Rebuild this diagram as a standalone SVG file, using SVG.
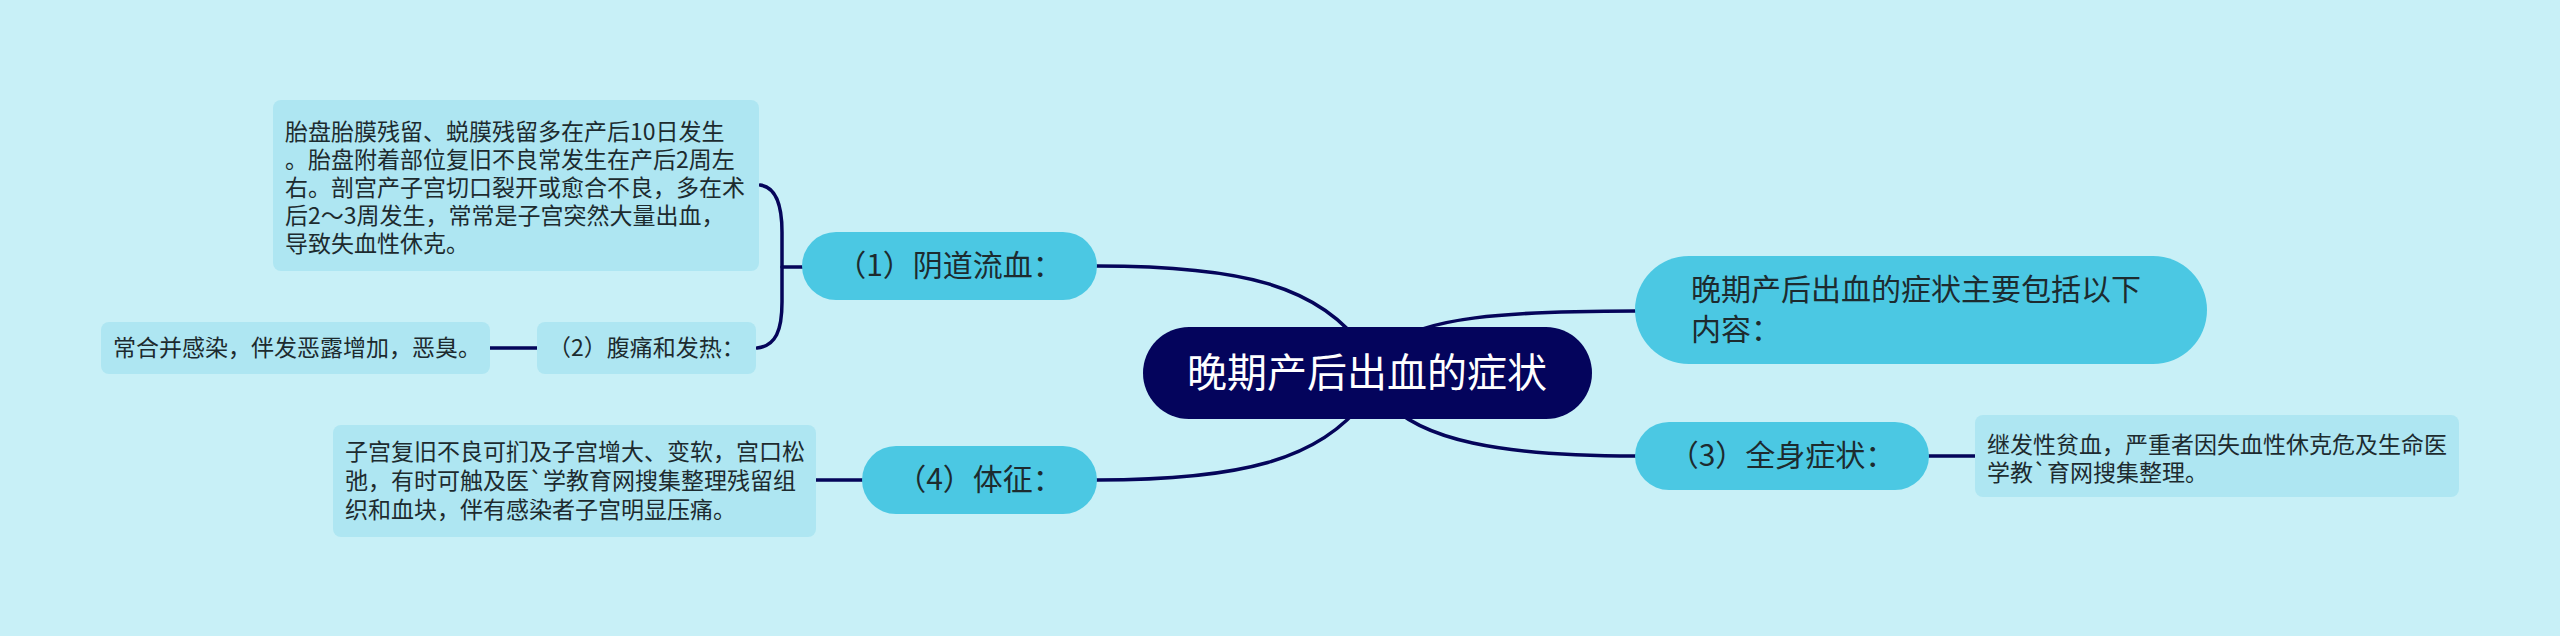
<svg xmlns="http://www.w3.org/2000/svg" width="2560" height="636" viewBox="0 0 2560 636">
<style>
.t{font-family:"Noto Sans CJK SC","Liberation Sans",sans-serif;fill:#1d2b2f}
.leaf{fill:#aee6f2}
.main{fill:#4bc8e3}
.lt{font-size:23px}
.mt{font-size:30px}
.ln{fill:none;stroke:#05055a;stroke-width:3.5;stroke-linecap:round}
</style>
<rect width="2560" height="636" fill="#c8f0f7"/>
<g id="connectors">
<path class="ln" d="M1097,266 C1240,266 1320,285 1365,350"/>
<path class="ln" d="M1097,480 C1240,480 1320,460 1365,400"/>
<path class="ln" d="M1390,345 C1425,318 1500,311 1636,311"/>
<path class="ln" d="M1385,400 C1420,440 1500,456 1636,456"/>
<path class="ln" d="M760,185 C776,187 782,205 782,232 L782,302 C782,330 776,346 757,348"/>
<path class="ln" d="M782,267 H803"/>
<path class="ln" d="M490,348 H537"/>
<path class="ln" d="M816,480 H862"/>
<path class="ln" d="M1929,456 H1975"/>
</g>
<g id="central">
<rect x="1143" y="327" width="449" height="92" rx="46" fill="#04045c"/>
<text x="1367" y="387" text-anchor="middle" style="font-family:'Noto Sans CJK SC','Liberation Sans',sans-serif;font-size:40px;fill:#ffffff">晚期产后出血的症状</text>
</g>
<g id="n1">
<rect class="main" x="802" y="232" width="295" height="68" rx="34"/>
<text class="t mt" x="949.5" y="276" text-anchor="middle">（1）阴道流血：</text>
</g>
<g id="leaf1">
<rect class="leaf" x="273" y="100" width="486" height="171" rx="8"/>
<text class="t lt" x="285" y="140">胎盘胎膜残留、蜕膜残留多在产后10日发生</text>
<text class="t lt" x="285" y="168">。胎盘附着部位复旧不良常发生在产后2周左</text>
<text class="t lt" x="285" y="196">右。剖宫产子宫切口裂开或愈合不良，多在术</text>
<text class="t lt" x="285" y="224">后2～3周发生，常常是子宫突然大量出血，</text>
<text class="t lt" x="285" y="252">导致失血性休克。</text>
</g>
<g id="n2">
<rect class="leaf" x="537" y="322" width="219" height="52" rx="8"/>
<text class="t lt" x="646.5" y="356" text-anchor="middle">（2）腹痛和发热：</text>
</g>
<g id="leaf2">
<rect class="leaf" x="101" y="322" width="389" height="52" rx="8"/>
<text class="t lt" x="113" y="356">常合并感染，伴发恶露增加，恶臭。</text>
</g>
<g id="n4">
<rect class="main" x="862" y="446" width="235" height="68" rx="34"/>
<text class="t mt" x="979.5" y="490" text-anchor="middle">（4）体征：</text>
</g>
<g id="leaf4">
<rect class="leaf" x="333" y="425" width="483" height="112" rx="8"/>
<text class="t lt" x="345" y="460">子宫复旧不良可扪及子宫增大、变软，宫口松</text>
<text class="t lt" x="345" y="489">弛，有时可触及医`学教育网搜集整理残留组</text>
<text class="t lt" x="345" y="518">织和血块，伴有感染者子宫明显压痛。</text>
</g>
<g id="n0">
<rect class="main" x="1635" y="256" width="572" height="108" rx="54"/>
<text class="t mt" x="1691" y="300">晚期产后出血的症状主要包括以下</text>
<text class="t mt" x="1691" y="340">内容：</text>
</g>
<g id="n3">
<rect class="main" x="1635" y="422" width="294" height="68" rx="34"/>
<text class="t mt" x="1782" y="466" text-anchor="middle">（3）全身症状：</text>
</g>
<g id="leaf3">
<rect class="leaf" x="1975" y="415" width="484" height="82" rx="8"/>
<text class="t lt" x="1987" y="453">继发性贫血，严重者因失血性休克危及生命医</text>
<text class="t lt" x="1987" y="481">学教`育网搜集整理。</text>
</g>
</svg>
